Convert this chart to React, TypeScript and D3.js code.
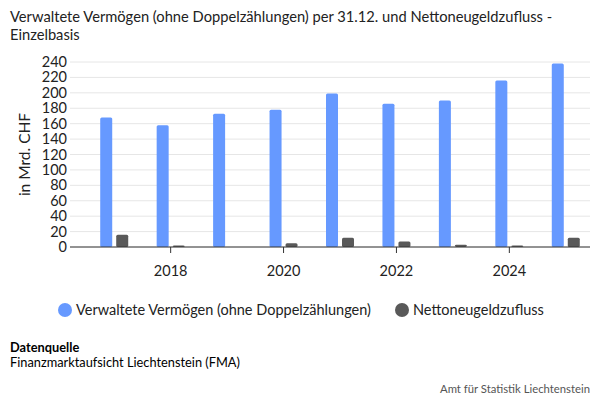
import * as d3 from "d3";

const years = [2017, 2018, 2019, 2020, 2021, 2022, 2023, 2024, 2025];
const vermoegen = [168, 158, 173, 178, 199, 186, 190, 216, 238];
const zufluss = [16, 2, 0, 5, 12, 7, 3, 2, 12];
const yTicks = d3.range(0, 241, 20);
const seriesNames = ["Verwaltete Vermögen (ohne Doppelzählungen)", "Nettoneugeldzufluss"];
const colors = ["#6699ff", "#595959"];

export default function App() {
  const W = 600, H = 400;
  const left = 86, right = 594, top = 62, bottom = 247;
  const x = d3.scaleBand<number>().domain(years).range([left, right]);
  const y = d3.scaleLinear().domain([0, 240]).range([bottom, top]);
  const bw = 12;
  const font = "Lato, 'Open Sans', sans-serif";
  return (
    <svg width={W} height={H} style={{ position: "absolute", left: 0, top: 0, fontFamily: font }}>
      <rect width={W} height={H} fill="#fff" />
      <text x={10} y={22} fontSize={14.7} fill="#222">Verwaltete Vermögen (ohne Doppelzählungen) per 31.12. und Nettoneugeldzufluss -</text>
      <text x={10} y={40} fontSize={14.7} fill="#222">Einzelbasis</text>
      {yTicks.map((t) => (
        <g key={t}>
          <line x1={70} x2={590} y1={y(t)} y2={y(t)} stroke="#e6e6e6" />
          <text x={67} y={y(t) + 5} fontSize={14.5} textAnchor="end" fill="#222">{t}</text>
        </g>
      ))}
      <text transform={`translate(30,${(top + bottom) / 2}) rotate(-90)`} fontSize={15.5} textAnchor="middle" fill="#222">in Mrd. CHF</text>
      {years.map((yr, i) => {
        const cx = x(yr)! + x.bandwidth() / 2;
        return (
          <g key={yr}>
            <rect x={cx - bw - 2} y={y(vermoegen[i])} width={bw} height={bottom - y(vermoegen[i])} fill={colors[0]} rx={1.5} />
            <rect x={cx + 2} y={y(zufluss[i])} width={bw} height={bottom - y(zufluss[i])} fill={colors[1]} rx={1.5} />
            {yr % 2 === 0 && (
              <>
                <line x1={cx} x2={cx} y1={bottom} y2={bottom + 6} stroke="#333" />
                <text x={cx} y={bottom + 29} fontSize={14.5} textAnchor="middle" fill="#222">{yr}</text>
              </>
            )}
          </g>
        );
      })}
      <line x1={70} x2={590} y1={bottom} y2={bottom} stroke="#333" />
      <circle cx={65} cy={310} r={7} fill={colors[0]} />
      <text x={76} y={315} fontSize={14.5} fill="#222">{seriesNames[0]}</text>
      <circle cx={402} cy={310} r={7} fill={colors[1]} />
      <text x={413} y={315} fontSize={14.5} fill="#222">{seriesNames[1]}</text>
      <text x={10} y={352} fontSize={12.8} fontWeight="bold" fill="#000">Datenquelle</text>
      <text x={10} y={367} fontSize={12.8} fill="#000">Finanzmarktaufsicht Liechtenstein (FMA)</text>
      <text x={590} y={393} fontSize={11.3} textAnchor="end" fill="#555">Amt für Statistik Liechtenstein</text>
    </svg>
  );
}
